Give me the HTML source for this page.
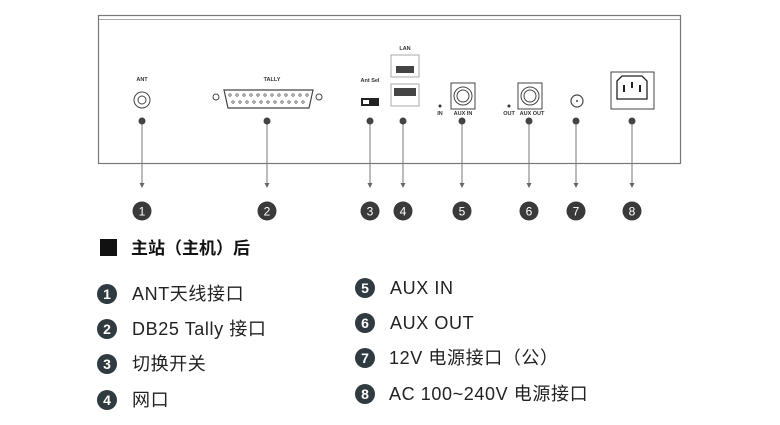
<!DOCTYPE html>
<html><head><meta charset="utf-8"><style>
body{margin:0;background:#fff;width:780px;height:425px;overflow:hidden}
svg{display:block}
text{font-family:"Liberation Sans","Noto Sans CJK SC",sans-serif}
</style></head><body>
<svg width="780" height="425" viewBox="0 0 780 425">
<!-- panel -->
<rect x="98.5" y="15.5" width="582" height="148" fill="#fff" stroke="#777" stroke-width="1.2"/>
<line x1="99" y1="19.5" x2="680" y2="19.5" stroke="#aaa"/>
<g font-size="5.5" fill="#333" text-anchor="middle" font-weight="bold">
<text x="142" y="81">ANT</text><text x="272" y="81">TALLY</text><text x="370" y="82">Ant Sel</text>
<text x="405" y="50">LAN</text><text x="440" y="115">IN</text><text x="463" y="115">AUX IN</text>
<text x="509" y="115">OUT</text><text x="532" y="115">AUX OUT</text></g>
<!-- ANT -->
<circle cx="142" cy="100" r="8" fill="none" stroke="#444"/><circle cx="142" cy="100" r="4" fill="none" stroke="#444"/>
<!-- DB25 -->
<circle cx="216" cy="97" r="3" fill="none" stroke="#444"/><circle cx="319" cy="97" r="3" fill="none" stroke="#444"/>
<path d="M224,90 H313 L309,108 H228Z" fill="none" stroke="#444" stroke-width="1.2"/>
<g fill="none" stroke="#444" stroke-width=".7">
<circle cx="230" cy="95" r="1.2"/><circle cx="237" cy="95" r="1.2"/><circle cx="244" cy="95" r="1.2"/><circle cx="251" cy="95" r="1.2"/><circle cx="258" cy="95" r="1.2"/><circle cx="265" cy="95" r="1.2"/><circle cx="272" cy="95" r="1.2"/><circle cx="279" cy="95" r="1.2"/><circle cx="286" cy="95" r="1.2"/><circle cx="293" cy="95" r="1.2"/><circle cx="300" cy="95" r="1.2"/><circle cx="307" cy="95" r="1.2"/>
<circle cx="233" cy="102" r="1.2"/><circle cx="240" cy="102" r="1.2"/><circle cx="247" cy="102" r="1.2"/><circle cx="254" cy="102" r="1.2"/><circle cx="261" cy="102" r="1.2"/><circle cx="268" cy="102" r="1.2"/><circle cx="275" cy="102" r="1.2"/><circle cx="282" cy="102" r="1.2"/><circle cx="289" cy="102" r="1.2"/><circle cx="296" cy="102" r="1.2"/><circle cx="303" cy="102" r="1.2"/></g>
<!-- switch -->
<rect x="361" y="98" width="18" height="8" fill="#222"/><rect x="363" y="100" width="6" height="4" fill="#fff"/>
<!-- LAN -->
<rect x="391" y="55" width="28" height="22" fill="none" stroke="#aaa"/><rect x="396" y="66" width="18" height="7" fill="#444"/>
<rect x="391" y="84" width="28" height="22" fill="none" stroke="#aaa"/><rect x="394" y="88" width="22" height="8" fill="#444"/>
<!-- XLR -->
<rect x="451" y="83" width="24" height="26" fill="none" stroke="#444"/><circle cx="463" cy="96" r="9" fill="none" stroke="#444"/><circle cx="463" cy="96" r="6" fill="none" stroke="#444"/>
<rect x="518" y="83" width="24" height="26" fill="none" stroke="#444"/><circle cx="530" cy="96" r="9" fill="none" stroke="#444"/><circle cx="530" cy="96" r="6" fill="none" stroke="#444"/>
<circle cx="440" cy="106" r="1.5" fill="#333"/><circle cx="509" cy="106" r="1.5" fill="#333"/>
<!-- DC -->
<circle cx="577" cy="101" r="6" fill="none" stroke="#444" stroke-width="1.2"/><circle cx="577" cy="101" r="1" fill="#444"/>
<!-- IEC -->
<rect x="611" y="72" width="43" height="37" fill="none" stroke="#444"/>
<path d="M617,81 L622,76 H642 L647,81 V99 H617Z" fill="none" stroke="#222" stroke-width="1.3"/>
<rect x="623" y="85" width="2" height="7" fill="#222"/><rect x="631" y="82" width="2" height="6" fill="#222"/><rect x="639" y="85" width="2" height="7" fill="#222"/>
<!-- lines -->
<g stroke="#777" stroke-width="1">
<line x1="142" y1="121" x2="142" y2="184"/><line x1="267" y1="121" x2="267" y2="184"/><line x1="370" y1="121" x2="370" y2="184"/><line x1="403" y1="121" x2="403" y2="184"/>
<line x1="462" y1="121" x2="462" y2="184"/><line x1="529" y1="121" x2="529" y2="184"/><line x1="576" y1="121" x2="576" y2="184"/><line x1="632" y1="121" x2="632" y2="184"/></g>
<g fill="#666">
<path d="M139.5,183 h5 l-2.5,5z"/><path d="M264.5,183 h5 l-2.5,5z"/><path d="M367.5,183 h5 l-2.5,5z"/><path d="M400.5,183 h5 l-2.5,5z"/>
<path d="M459.5,183 h5 l-2.5,5z"/><path d="M526.5,183 h5 l-2.5,5z"/><path d="M573.5,183 h5 l-2.5,5z"/><path d="M629.5,183 h5 l-2.5,5z"/></g>
<g fill="#444"><circle cx="142" cy="121" r="3.5"/><circle cx="267" cy="121" r="3.5"/><circle cx="370" cy="121" r="3.5"/><circle cx="403" cy="121" r="3.5"/><circle cx="462" cy="121" r="3.5"/><circle cx="529" cy="121" r="3.5"/><circle cx="576" cy="121" r="3.5"/><circle cx="632" cy="121" r="3.5"/></g>
<g fill="#3a3a3a"><circle cx="142" cy="211" r="9.5"/><circle cx="267" cy="211" r="9.5"/><circle cx="370" cy="211" r="9.5"/><circle cx="403" cy="211" r="9.5"/><circle cx="462" cy="211" r="9.5"/><circle cx="529" cy="211" r="9.5"/><circle cx="576" cy="211" r="9.5"/><circle cx="632" cy="211" r="9.5"/></g>
<g fill="#fff" font-size="12" text-anchor="middle"><text x="142" y="215.5">1</text><text x="267" y="215.5">2</text><text x="370" y="215.5">3</text><text x="403" y="215.5">4</text><text x="462" y="215.5">5</text><text x="529" y="215.5">6</text><text x="576" y="215.5">7</text><text x="632" y="215.5">8</text></g>
<!-- heading -->
<rect x="100" y="239" width="17" height="17" fill="#111"/>
<text x="131" y="254" font-size="17" font-weight="bold" fill="#111">主站（主机）后</text>
<!-- list -->
<g fill="#2f3b40"><circle cx="107" cy="294" r="10"/><circle cx="107" cy="329" r="10"/><circle cx="107" cy="364" r="10"/><circle cx="107" cy="400" r="10"/>
<circle cx="365" cy="288" r="10"/><circle cx="365" cy="323" r="10"/><circle cx="365" cy="358" r="10"/><circle cx="365" cy="394" r="10"/></g>
<g fill="#fff" font-size="14" font-weight="bold" text-anchor="middle"><text x="107" y="299">1</text><text x="107" y="334">2</text><text x="107" y="369">3</text><text x="107" y="405">4</text>
<text x="365" y="293">5</text><text x="365" y="328">6</text><text x="365" y="363">7</text><text x="365" y="399">8</text></g>
<g fill="#222" font-size="18" letter-spacing="0.6"><text x="132" y="300">ANT天线接口</text><text x="132" y="335">DB25 Tally 接口</text><text x="132" y="370">切换开关</text><text x="132" y="406">网口</text>
<text x="390" y="294">AUX IN</text><text x="390" y="329">AUX OUT</text><text x="389" y="364">12V 电源接口（公）</text><text x="389" y="400">AC 100~240V 电源接口</text></g>
</svg>
</body></html>
